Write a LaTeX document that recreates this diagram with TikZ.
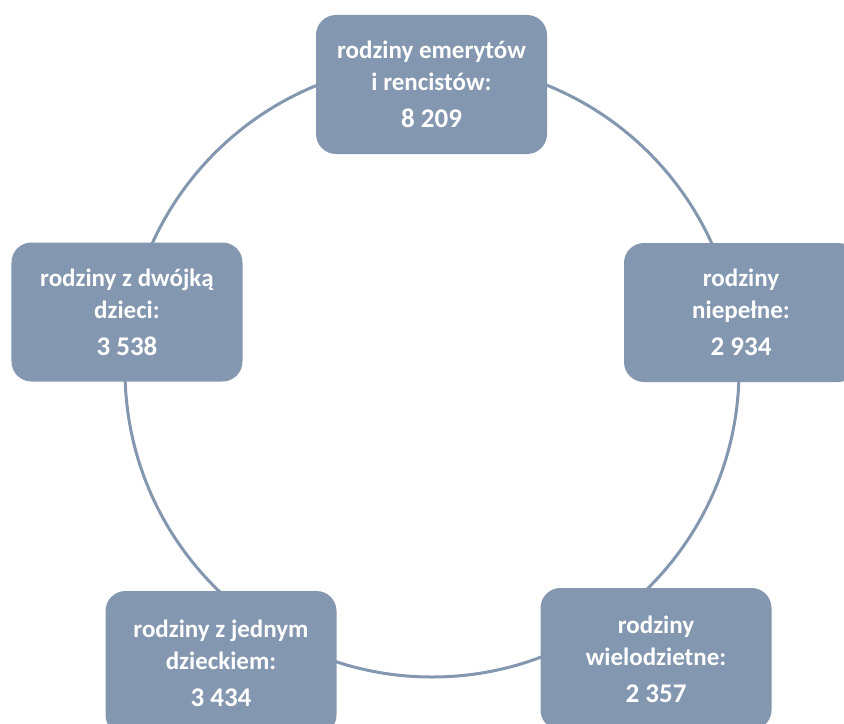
\documentclass[tikz,border=0pt]{standalone}
\usepackage{fontspec}
\setmainfont{Carlito}
\definecolor{boxc}{HTML}{8497B0}
\definecolor{ringc}{HTML}{8497B0}
\tikzset{
  box/.style={fill=boxc, draw=none, rounded corners=20bp, text=white,
    align=center, inner sep=0pt, minimum width=231bp, minimum height=139bp,
    font=\bfseries\fontsize{25bp}{32bp}\selectfont},
  ring/.style={draw=ringc, line width=3bp},
}
\newcommand{\numline}[1]{\\[5bp]{\fontsize{27bp}{32bp}\selectfont #1}}
\begin{document}
\begin{tikzpicture}[x=1bp,y=-1bp]
\useasboundingbox (0,0) rectangle (844,724);
\clip (0,0) rectangle (844,724);
\fill[white] (0,0) rectangle (844,724);
\coordinate (c) at (432,370);
\draw[ring] (c) circle (307bp);
\node[box] (top) at (431.5,84.5) {rodziny emerytów\\i rencistów:\numline{8 209}};
\node[box] (left) at (127,312) {rodziny z dwójką\\dzieci:\numline{3 538}};
\node[box, minimum width=234bp] (right) at (741,312.5) {rodziny\\niepełne:\numline{2 934}};
\node[box, minimum height=144bp] (bl) at (221,663) {rodziny z jednym\\dzieckiem:\numline{3 434}};
\node[box, minimum height=142bp] (br) at (656,659) {rodziny\\wielodzietne:\numline{2 357}};
\end{tikzpicture}
\end{document}
